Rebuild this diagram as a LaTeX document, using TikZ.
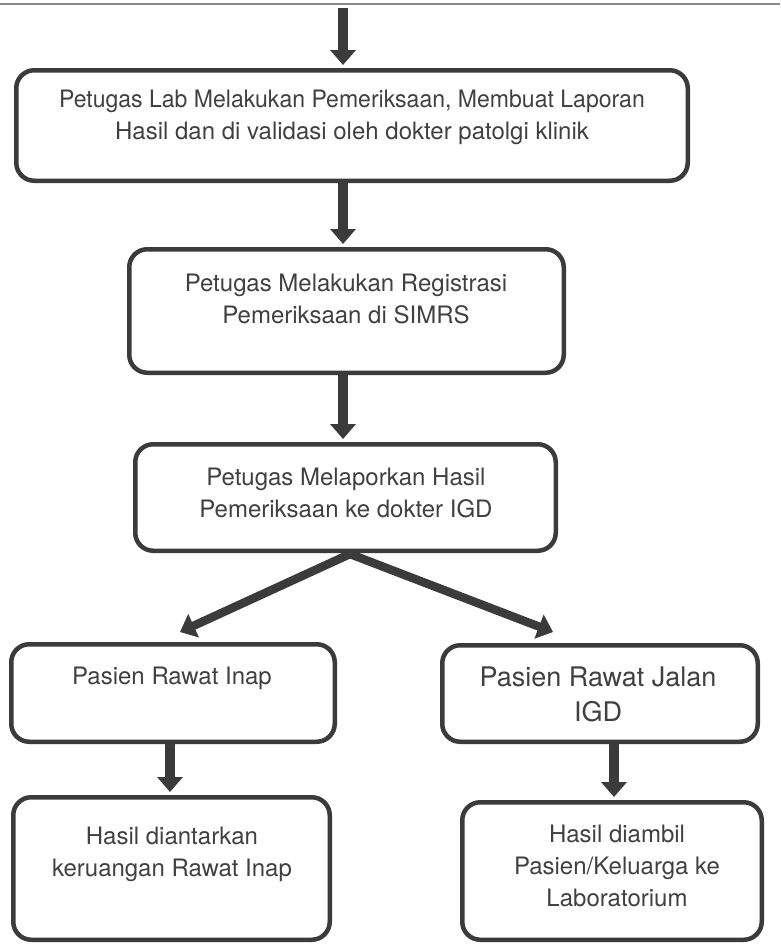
\documentclass[tikz,border=0pt]{standalone}
\usepackage{fontspec}
\usepackage{graphicx}
\setmainfont{TeX Gyre Heros}
\usetikzlibrary{arrows.meta}
\definecolor{ink}{HTML}{3B3B3B}
\definecolor{txtgray}{HTML}{404040}
\definecolor{rulegray}{HTML}{8C8C8C}
\begin{document}
\begin{tikzpicture}[x=1pt,y=-1pt,
  stepbox/.style={draw=ink, line width=4.5pt, rounded corners=18pt, inner sep=0pt},
  boxtext/.style={text=txtgray, align=center, inner sep=0pt,
    font=\fontsize{24}{32}\selectfont},
  bigtext/.style={boxtext, font=\fontsize{27}{35}\selectfont},
  flow/.style={draw=ink, line width=9.5pt,
    -{Triangle[width=25pt,length=15pt]}, shorten >=3pt}]
\useasboundingbox (0,0) rectangle (780,945);

% rule along the top edge
\coordinate (ruleL) at (0,4);
\coordinate (ruleR) at (780,4);
\draw[rulegray, line width=2pt] (ruleL) -- (ruleR);

% boxes
\node[stepbox, minimum width=671.5pt, minimum height=110.5pt] (b1) at (352,125.5) {};
\node[stepbox, minimum width=434.5pt, minimum height=123.5pt] (b2) at (346.5,311) {};
\node[stepbox, minimum width=420.5pt, minimum height=106.5pt] (b3) at (345.5,497.5) {};
\node[stepbox, minimum width=323.5pt, minimum height=97.5pt] (b4) at (173,693) {};
\node[stepbox, minimum width=315.5pt, minimum height=96.5pt] (b5) at (600,693.5) {};
\node[stepbox, minimum width=316.5pt, minimum height=142.5pt] (b6) at (171.5,868.5) {};
\node[stepbox, minimum width=299.5pt, minimum height=137.5pt] (b7) at (612,871) {};

% box texts
\node[boxtext] (t1) at (352,117) {\scalebox{0.96}[1]{Petugas Lab Melakukan Pemeriksaan, Membuat Laporan}\\Hasil dan di validasi oleh dokter patolgi klinik};
\node[boxtext] (t2) at (346,299) {Petugas Melakukan Registrasi\\Pemeriksaan di SIMRS};
\node[boxtext] (t3) at (346,493) {Petugas Melaporkan Hasil\\Pemeriksaan ke dokter IGD};
\node[boxtext] (t4) at (172,678) {Pasien Rawat Inap};
\node[bigtext] (t5) at (598,694) {Pasien Rawat Jalan\\IGD};
\node[boxtext] (t6) at (172,854) {Hasil diantarkan\\keruangan Rawat Inap};
\node[boxtext] (t7) at (617,866) {Hasil diambil\\Pasien/Keluarga ke\\Laboratorium};

% connectors
\coordinate (col) at (343,0);
\coordinate (src) at (343,8);
\coordinate (fork) at (350,554);
\coordinate (tipL) at (180,632);
\coordinate (tipR) at (553,632);
\coordinate (colL) at (170,0);
\coordinate (colR) at (614,0);

\draw[flow] (src) -- (b1.north -| col);
\draw[flow] (b1.south -| col) -- (b2.north -| col);
\draw[flow] (b2.south -| col) -- (b3.north -| col);
\draw[flow, line width=8.5pt, shorten >=0pt] (fork) -- (tipL);
\draw[flow, line width=8.5pt, shorten >=0pt] (fork) -- (tipR);
\draw[flow] (b4.south -| colL) -- (b6.north -| colL);
\draw[flow] (b5.south -| colR) -- (b7.north -| colR);
\end{tikzpicture}
\end{document}
